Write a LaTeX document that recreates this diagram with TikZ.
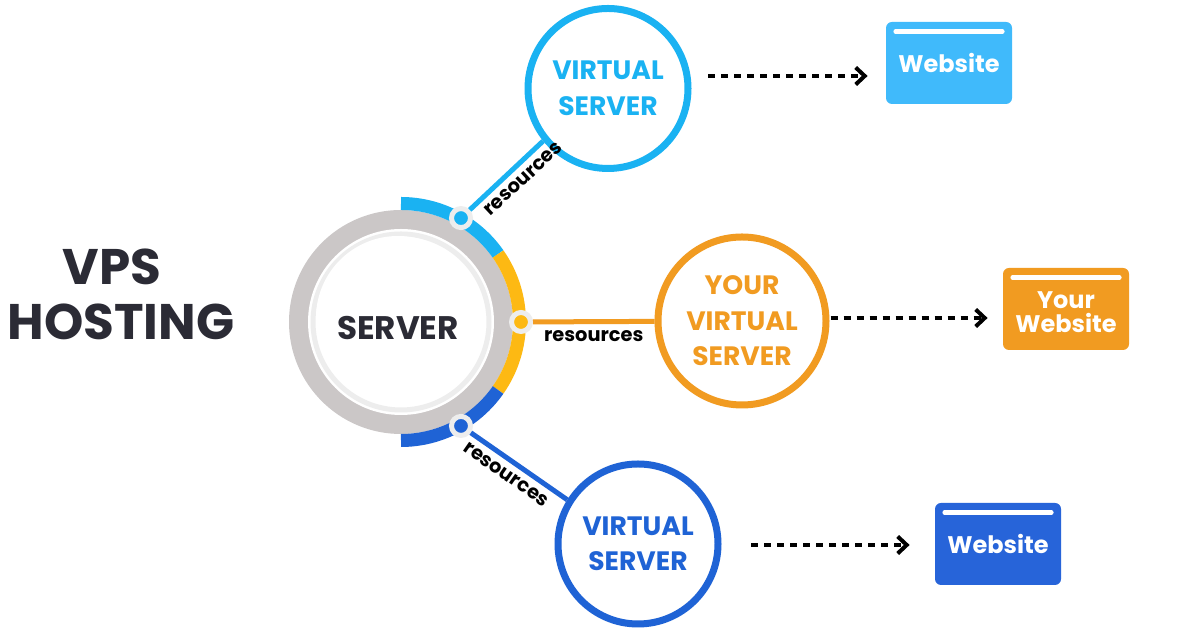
\documentclass[tikz,border=0pt]{standalone}
\usepackage{fontspec}
\setmainfont{Poppins}
\usetikzlibrary{arrows.meta}

\definecolor{vpsdark}{HTML}{2B2B35}
\definecolor{vlight}{HTML}{1AB2F2}
\definecolor{weblight}{HTML}{40BAFB}
\definecolor{vorange}{HTML}{F19B21}
\definecolor{vyellow}{HTML}{FDB913}
\definecolor{vdark}{HTML}{1F63D5}
\definecolor{webdark}{HTML}{2764D9}
\definecolor{ringgray}{HTML}{CBC7C7}

\def\ringradius{112}
\def\arcradius{118.5}

\tikzset{
  vserver/.style={circle, draw=#1, text=#1, line width=3.5pt, minimum size=80pt,
    align=center, font=\bfseries\fontsize{13.3}{17.75}\selectfont},
  website/.style={rectangle, rounded corners=3pt, fill=#1, text=white,
    minimum width=63pt, minimum height=41pt, align=center,
    font=\bfseries\fontsize{12}{12}\selectfont},
  resdot/.style={circle, fill=#1, draw=black!7, line width=2.5pt, minimum size=9.5pt, inner sep=0pt},
  link/.style={line width=2.5pt, draw=#1},
  reslabel/.style={font=\bfseries\fontsize{9.7}{10}\selectfont, text=black, inner sep=3pt},
  flow/.style={line width=2pt, dash pattern=on 3.5pt off 3pt,
    -{Straight Barb[length=4.5pt,width=8.5pt]}},
  webbar/.style={white, line width=2.2pt, line cap=round}
}

\begin{document}
\begin{tikzpicture}[x=0.5pt,y=0.5pt]
        \fill[white] (0,0) rectangle (1200,630);
        \useasboundingbox (0,0) rectangle (1200,630);

        \node[font=\bfseries\fontsize{25}{26}\selectfont, text=vpsdark] (vpstitle) at (112,363.5) {VPS};
        \node[font=\bfseries\fontsize{25}{26}\selectfont, text=vpsdark] (hostingtitle) at (121,308) {HOSTING};

        \coordinate (srv) at (401,308);
        \fill[ringgray] (srv) circle (\ringradius);
        \fill[white] (srv) circle (93);
        \draw[black!7, line width=2.5pt] (srv) circle (88);
        \fill[white] ([shift={(-3,4)}]srv) circle (82);
        \draw[vlight, line width=6.5pt] ([shift={(90:\arcradius)}]srv) arc (90:35:\arcradius);
        \draw[vyellow, line width=6.5pt] ([shift={(35:\arcradius)}]srv) arc (35:-35:\arcradius);
        \draw[vdark, line width=6.5pt] ([shift={(-35:\arcradius)}]srv) arc (-35:-90:\arcradius);
        \node[font=\bfseries\fontsize{16.3}{17}\selectfont, text=vpsdark] (server) at (398,302) {SERVER};

        \node[resdot=vlight] (dottop) at ([shift={(60:120)}]srv) {};
        \node[resdot=vyellow] (dotmid) at ([shift={(0:120)}]srv) {};
        \node[resdot=vdark] (dotbot) at ([shift={(-60:120)}]srv) {};

        \node[vserver=vlight] (vtop) at (608,541.5) {VIRTUAL\\SERVER};
        \node[vserver=vorange, minimum size=84pt] (vmid) at (742,309) {YOUR\\VIRTUAL\\SERVER};
        \node[vserver=vdark] (vbot) at (638,86) {VIRTUAL\\SERVER};

        \draw[link=vlight] (dottop) -- node[reslabel, sloped, below, pos=0.6] {resources} (vtop.219);
        \draw[link=vorange] (dotmid) -- node[reslabel, below, pos=0.5] {resources} (vmid);
        \draw[link=vdark] (dotbot) -- node[reslabel, sloped, below, pos=0.45] {resources} (vbot.148);

        \node[website=weblight] (webtop) at (949,567) {Website};
        \node[website=vorange] (webmid) at (1066,321) {\rule{0pt}{12pt}Your\\Website};
        \node[website=webdark] (webbot) at (998,86) {Website};
        \foreach \w in {webtop,webmid,webbot}
            \draw[webbar] ([shift={(10,-10)}]\w.north west) -- ([shift={(-10,-10)}]\w.north east);

        \draw[flow] ([shift={(16.5,12.5)}]vtop.east) -- ([shift={(-18,-13)}]webtop.west);
        \draw[flow] ([shift={(1,3)}]vmid.east) -- ([shift={(-15,-9)}]webmid.west);
        \draw[flow] ([shift={(29.5,-1)}]vbot.east) -- ([shift={(-25,-1)}]webbot.west);
    \end{tikzpicture}
\end{document}
